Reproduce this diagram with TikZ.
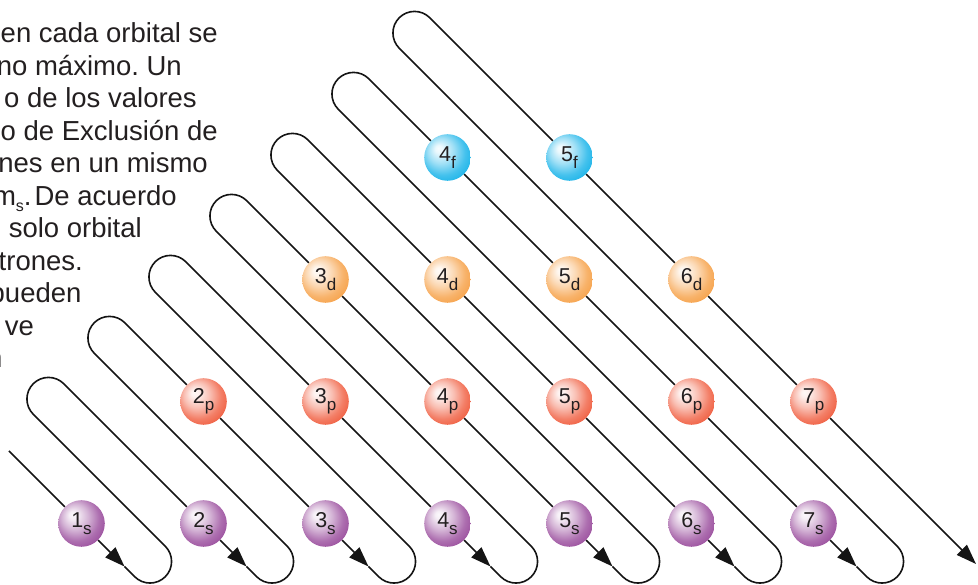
\documentclass[tikz,border=0pt]{standalone}
\usepackage{fontspec}
\setmainfont{Liberation Sans}
\usetikzlibrary{arrows.meta}
\definecolor{txt}{HTML}{231F20}
\definecolor{sc}{HTML}{9B4F9E}
\definecolor{pc}{HTML}{F05E40}
\definecolor{dc}{HTML}{F6A24A}
\definecolor{fc}{HTML}{1BB4E9}
\pgfdeclareradialshading{sball}{\pgfpoint{-10bp}{10bp}}{color(0bp)=(sc!4!white); color(4bp)=(sc!9!white); color(14bp)=(sc!42!white); color(24bp)=(sc!82!white); color(32bp)=(sc); color(50bp)=(sc)}
\pgfdeclareradialshading{pball}{\pgfpoint{-10bp}{10bp}}{color(0bp)=(pc!4!white); color(4bp)=(pc!9!white); color(14bp)=(pc!40!white); color(24bp)=(pc!80!white); color(32bp)=(pc); color(50bp)=(pc)}
\pgfdeclareradialshading{dball}{\pgfpoint{-10bp}{10bp}}{color(0bp)=(dc!4!white); color(4bp)=(dc!9!white); color(14bp)=(dc!42!white); color(24bp)=(dc!82!white); color(32bp)=(dc); color(50bp)=(dc)}
\pgfdeclareradialshading{fball}{\pgfpoint{-10bp}{10bp}}{color(0bp)=(fc!4!white); color(4bp)=(fc!9!white); color(14bp)=(fc!42!white); color(24bp)=(fc!82!white); color(32bp)=(fc); color(50bp)=(fc)}
\pgfdeclarelayer{bg}
\pgfsetlayers{bg,main}
\newcommand{\orb}[2]{#1\raisebox{-6.5pt}{\fontsize{17}{17}\selectfont #2}}
\newcommand{\subs}[1]{\raisebox{-6pt}{\fontsize{16}{16}\selectfont #1}}
\frenchspacing
\begin{document}
\begin{tikzpicture}[x=1pt,y=1pt,
  ball/.style={circle, minimum size=46.6pt, inner sep=0pt, shade, text=txt, font=\fontsize{21.5}{21.5}\selectfont},
  sb/.style={ball, shading=sball},
  pb/.style={ball, shading=pball},
  db/.style={ball, shading=dball},
  fb/.style={ball, shading=fball},
  wire/.style={line width=1.6pt, black!92},
  arw/.style={wire, -{Triangle[length=20pt,width=14pt]}},
  body/.style={inner sep=0pt, text=txt, font=\fontsize{27.5}{32.5}\selectfont}]
\useasboundingbox (0,0) rectangle (978,585);
\clip (0,0) rectangle (978,585);
% text (cut at the left edge)
\node[body, anchor=base east] (t1) at (218,542) {en cada orbital se};
\node[body, anchor=base east] (t2) at (182,509.5) {no máximo. Un};
\node[body, anchor=base east] (t3) at (197,477) {o de los valores};
\node[body, anchor=base east] (t4) at (218,444.5) {o de Exclusión de};
\node[body, anchor=base east] (t5) at (208,412) {nes en un mismo};
\node[body, anchor=base east] (t6) at (177,379.5) {m\subs{s}.\hspace{3pt}De acuerdo};
\node[body, anchor=base east] (t7) at (142,347) {solo orbital};
\node[body, anchor=base east] (t8) at (83,314.5) {trones.};
\node[body, anchor=base west] (t9) at (-10.5,282) {pueden};
\node[body, anchor=base east] (t10) at (34,249.5) {ve};
\node[body, anchor=base west] (t11) at (-13,217) {n};
% balls
\node[sb] (b1s) at (81.5,61.5) {\orb{1}{s}};
\node[sb] (b2s) at (203.5,61.5) {\orb{2}{s}};
\node[sb] (b3s) at (325.5,61.5) {\orb{3}{s}};
\node[sb] (b4s) at (447.5,61.5) {\orb{4}{s}};
\node[sb] (b5s) at (569.5,61.5) {\orb{5}{s}};
\node[sb] (b6s) at (691.5,61.5) {\orb{6}{s}};
\node[sb] (b7s) at (813.5,61.5) {\orb{7}{s}};
\node[pb] (b2p) at (203.5,183.5) {\orb{2}{p}};
\node[pb] (b3p) at (325.5,183.5) {\orb{3}{p}};
\node[pb] (b4p) at (447.5,183.5) {\orb{4}{p}};
\node[pb] (b5p) at (569.5,183.5) {\orb{5}{p}};
\node[pb] (b6p) at (691.5,183.5) {\orb{6}{p}};
\node[pb] (b7p) at (813.5,183.5) {\orb{7}{p}};
\node[db] (b3d) at (325.5,305.5) {\orb{3}{d}};
\node[db] (b4d) at (447.5,305.5) {\orb{4}{d}};
\node[db] (b5d) at (569.5,305.5) {\orb{5}{d}};
\node[db] (b6d) at (691.5,305.5) {\orb{6}{d}};
\node[fb] (b4f) at (447.5,427.5) {\orb{4}{f}};
\node[fb] (b5f) at (569.5,427.5) {\orb{5}{f}};
% path coordinates
\coordinate (start) at (9,134);
\coordinate (tip8) at (976,21);
\foreach \k in {1,...,7} {
  \coordinate (tip\k) at ({124.5+122*(\k-1)},18.5);
  \coordinate (P\k) at ({134.75+122*(\k-1)},8.25);
}
\foreach \m in {2,...,8} {
  \coordinate (R\m) at ({399.25-61*(8-\m)},{536.75-61*(8-\m)});
}
\begin{pgfonlayer}{bg}
\draw[wire] (start) -- (b1s);
\draw[arw] (b1s) -- (tip1);
\draw[wire] (tip1) -- (P1) arc[start angle=225,end angle=405,radius=21.57] -- (R2) arc[start angle=225,end angle=45,radius=21.57] -- (b2s);
\draw[arw] (b2s) -- (tip2);
\draw[wire] (tip2) -- (P2) arc[start angle=225,end angle=405,radius=21.57] -- (R3) arc[start angle=225,end angle=45,radius=21.57] -- (b2p);
\draw[wire] (b2p) -- (b3s);
\draw[arw] (b3s) -- (tip3);
\draw[wire] (tip3) -- (P3) arc[start angle=225,end angle=405,radius=21.57] -- (R4) arc[start angle=225,end angle=45,radius=21.57] -- (b3p);
\draw[wire] (b3p) -- (b4s);
\draw[arw] (b4s) -- (tip4);
\draw[wire] (tip4) -- (P4) arc[start angle=225,end angle=405,radius=21.57] -- (R5) arc[start angle=225,end angle=45,radius=21.57] -- (b3d);
\draw[wire] (b3d) -- (b4p);
\draw[wire] (b4p) -- (b5s);
\draw[arw] (b5s) -- (tip5);
\draw[wire] (tip5) -- (P5) arc[start angle=225,end angle=405,radius=21.57] -- (R6) arc[start angle=225,end angle=45,radius=21.57] -- (b4d);
\draw[wire] (b4d) -- (b5p);
\draw[wire] (b5p) -- (b6s);
\draw[arw] (b6s) -- (tip6);
\draw[wire] (tip6) -- (P6) arc[start angle=225,end angle=405,radius=21.57] -- (R7) arc[start angle=225,end angle=45,radius=21.57] -- (b4f);
\draw[wire] (b4f) -- (b5d);
\draw[wire] (b5d) -- (b6p);
\draw[wire] (b6p) -- (b7s);
\draw[arw] (b7s) -- (tip7);
\draw[wire] (tip7) -- (P7) arc[start angle=225,end angle=405,radius=21.57] -- (R8) arc[start angle=225,end angle=45,radius=21.57] -- (b5f);
\draw[wire] (b5f) -- (b6d);
\draw[wire] (b6d) -- (b7p);
\draw[arw] (b7p) -- (tip8);
\end{pgfonlayer}
\end{tikzpicture}
\end{document}
